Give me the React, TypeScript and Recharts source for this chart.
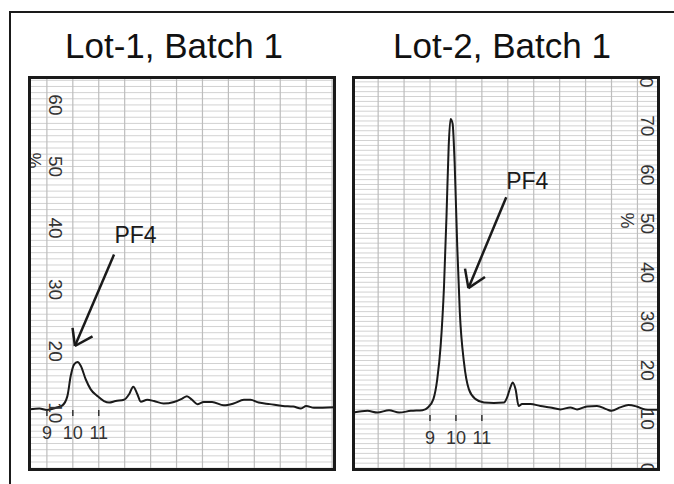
import React from "react";
import {
  LineChart,
  Line,
  XAxis,
  YAxis,
  CartesianGrid,
  ReferenceLine,
  ReferenceDot,
} from "recharts";

// Lot-1 trace (time in min, signal in %)
const lot1Time = [
  8.36, 8.71, 9.0, 9.35, 9.6, 9.79, 9.92, 10.05, 10.18, 10.31, 10.5, 10.69,
  10.95, 11.2, 11.4, 11.65, 11.97, 12.17, 12.33, 12.49, 12.62, 12.87, 13.13,
  13.5, 13.9, 14.22, 14.4, 14.6, 14.8, 15.05, 15.37, 15.82, 16.2, 16.6, 16.85,
  17.17, 17.6, 18.1, 18.5, 18.8, 19.0, 19.3, 20.1,
];
const lot1Pct = [
  10.57, 10.67, 10.45, 10.8, 11.2, 12.7, 16.0, 17.86, 18.24, 17.6, 15.4, 13.8,
  12.7, 11.9, 11.65, 11.9, 12.1, 13.0, 14.24, 13.0, 11.8, 12.1, 11.9, 11.5,
  11.75, 12.3, 12.7, 12.1, 11.4, 11.75, 11.75, 11.2, 11.5, 12.1, 12.1, 11.65,
  11.4, 11.1, 11.0, 10.7, 11.1, 10.8, 10.9,
];

// Lot-2 trace
const lot2Time = [
  6.05, 6.59, 6.97, 7.42, 7.81, 8.26, 8.71, 8.92, 9.13, 9.28, 9.41, 9.54, 9.64,
  9.72, 9.79, 9.87, 9.95, 10.05, 10.15, 10.31, 10.5, 10.76, 11.08, 11.46,
  11.85, 11.97, 12.1, 12.19, 12.3, 12.42, 12.55, 12.87, 13.26, 13.64, 14.03,
  14.41, 14.67, 15.05, 15.44, 15.82, 16.0, 16.33, 16.65, 16.97, 17.3, 17.85,
];
const lot2Pct = [
  11.36, 11.7, 11.36, 11.84, 11.36, 11.7, 11.84, 12.4, 14.1, 18.2, 25.0, 37.2,
  52.2, 65.8, 71.4, 70.5, 62.4, 45.4, 31.8, 21.6, 16.1, 14.1, 13.4, 13.3, 13.4,
  14.4, 16.5, 17.5, 16.1, 12.7, 13.1, 13.1, 12.7, 12.4, 12.0, 12.4, 12.0, 12.6,
  12.7, 12.0, 11.7, 12.4, 12.9, 12.6, 12.0, 11.9,
];

const titles = ["Lot-1, Batch 1", "Lot-2, Batch 1"];
const timeTicks = [9, 10, 11];
const lot1PctTicks = [10, 20, 30, 40, 50, 60];
const lot2PctTicks = [0, 10, 20, 30, 40, 50, 60, 70, 80];
const peakLabel = "PF4";

const FONT = '"Liberation Sans", Arial, Helvetica, sans-serif';
const INK = "#1a1a1a";

const range = (a: number, b: number) => {
  const out: number[] = [];
  for (let i = a; i <= b; i++) out.push(i);
  return out;
};

type PanelProps = {
  left: number;
  time: number[];
  pct: number[];
  xDomain: [number, number];
  yDomain: [number, number];
  yTicks: number[];
  yLabelX: number;
  pctDx: number;
  pctDy: number;
  tickTop: number;
  arrow: { from: [number, number]; tip: [number, number]; arm1: [number, number]; arm2: [number, number] };
  labelAt: [number, number];
};

const W = 308;
const H = 395;

const Panel: React.FC<PanelProps> = (p) => {
  const data = p.time.map((t, i) => ({ t, pct: p.pct[i] }));
  const vLines = range(Math.ceil(p.xDomain[0]), Math.floor(p.xDomain[1]));
  const hLines = range(Math.ceil(p.yDomain[0]), Math.floor(p.yDomain[1]));

  const yTick = (props: any) => {
    const { y, payload } = props;
    const cx = p.yLabelX;
    return (
      <g>
        <text
          x={cx}
          y={y}
          transform={`rotate(90 ${cx} ${y})`}
          textAnchor="middle"
          dominantBaseline="central"
          fontFamily={FONT}
          fontSize={19}
          fill="#333"
        >
          {payload.value}
        </text>
        {payload.value === 50 && (
          <text
            x={cx + p.pctDx}
            y={y + p.pctDy}
            transform={`rotate(90 ${cx + p.pctDx} ${y + p.pctDy})`}
            textAnchor="middle"
            dominantBaseline="central"
            fontFamily={FONT}
            fontSize={18}
            fill="#333"
          >
            %
          </text>
        )}
      </g>
    );
  };

  const xTick = (props: any) => {
    const { x, payload } = props;
    return (
      <g>
        <line x1={x} x2={x} y1={p.tickTop} y2={p.tickTop + 6} stroke="#333" strokeWidth={1.5} />
        <text
          x={x}
          y={p.tickTop + 29}
          textAnchor="middle"
          fontFamily={FONT}
          fontSize={18}
          fill="#333"
        >
          {payload.value}
        </text>
      </g>
    );
  };

  const a = p.arrow;
  return (
    <div style={{ position: "absolute", left: p.left, top: 76, width: W, height: H }}>
      <LineChart width={W} height={H} data={data} margin={{ top: 0, right: 0, bottom: 0, left: 0 }}>
        <CartesianGrid
          stroke="#d2d2d2"
          strokeWidth={1}
          vertical={false}
          horizontalValues={hLines}
        />
        <CartesianGrid
          stroke="#bdbdbd"
          strokeWidth={1.2}
          horizontal={false}
          verticalValues={vLines}
        />
        <XAxis
          dataKey="t"
          type="number"
          domain={p.xDomain}
          allowDataOverflow
          ticks={timeTicks}
          interval={0}
          height={1}
          axisLine={false}
          tickLine={false}
          tick={xTick}
        />
        <YAxis
          type="number"
          domain={p.yDomain}
          allowDataOverflow
          ticks={p.yTicks}
          interval={0}
          width={1}
          axisLine={false}
          tickLine={false}
          tick={yTick}
        />
        <ReferenceLine
          segment={[{ x: a.from[0], y: a.from[1] }, { x: a.tip[0], y: a.tip[1] }]}
          stroke={INK}
          strokeWidth={2.5}
        />
        <ReferenceLine
          segment={[{ x: a.arm1[0], y: a.arm1[1] }, { x: a.tip[0], y: a.tip[1] }]}
          stroke={INK}
          strokeWidth={2.5}
        />
        <ReferenceLine
          segment={[{ x: a.arm2[0], y: a.arm2[1] }, { x: a.tip[0], y: a.tip[1] }]}
          stroke={INK}
          strokeWidth={2.5}
        />
        <ReferenceDot
          x={p.labelAt[0]}
          y={p.labelAt[1]}
          r={0}
          fill="none"
          stroke="none"
          ifOverflow="visible"
          label={{
            value: peakLabel,
            position: "center",
            fontSize: 23,
            fontFamily: FONT,
            fill: INK,
          }}
        />
        <Line
          type="monotone"
          dataKey="pct"
          stroke={INK}
          strokeWidth={2}
          dot={false}
          isAnimationActive={false}
        />
      </LineChart>
      <div
        style={{
          position: "absolute",
          left: 0,
          top: 0,
          width: W,
          height: H,
          boxSizing: "border-box",
          border: `3px solid ${INK}`,
        }}
      />
    </div>
  );
};

export default function App() {
  return (
    <div
      style={{
        position: "absolute",
        left: 0,
        top: 0,
        width: 674,
        height: 484,
        background: "#fff",
        overflow: "hidden",
      }}
    >
      <div
        style={{
          position: "absolute",
          left: 9,
          top: 11,
          width: 700,
          height: 500,
          borderLeft: `2px solid ${INK}`,
          borderTop: `2px solid ${INK}`,
        }}
      />
      {titles.map((t, i) => (
        <div
          key={t}
          style={{
            position: "absolute",
            left: i === 0 ? 28 : 352,
            top: 26,
            width: 308,
            textAlign: "center",
            fontFamily: FONT,
            fontSize: 35,
            color: "#111",
            lineHeight: "40px",
            marginLeft: i === 0 ? -8 : -4,
          }}
        >
          {t}
        </div>
      ))}
      <Panel
        left={28}
        time={lot1Time}
        pct={lot1Pct}
        xDomain={[8.31, 20.15]}
        yDomain={[0.7, 64.7]}
        yTicks={lot1PctTicks}
        yLabelX={27}
        pctDx={-21}
        pctDy={-6}
        tickTop={334}
        arrow={{ from: [11.59, 35.69], tip: [10.08, 20.84], arm1: [9.99, 23.78], arm2: [10.76, 22.42] }}
        labelAt={[12.42, 38.93]}
      />
      <Panel
        left={352}
        time={lot2Time}
        pct={lot2Pct}
        xDomain={[6.03, 17.87]}
        yDomain={[-0.4, 80.2]}
        yTicks={lot2PctTicks}
        yLabelX={295}
        pctDx={-20}
        pctDy={-3}
        tickTop={339}
        arrow={{ from: [11.94, 55.4], tip: [10.48, 36.8], arm1: [10.35, 40.8], arm2: [11.12, 39.1] }}
        labelAt={[12.75, 58.8]}
      />
    </div>
  );
}
